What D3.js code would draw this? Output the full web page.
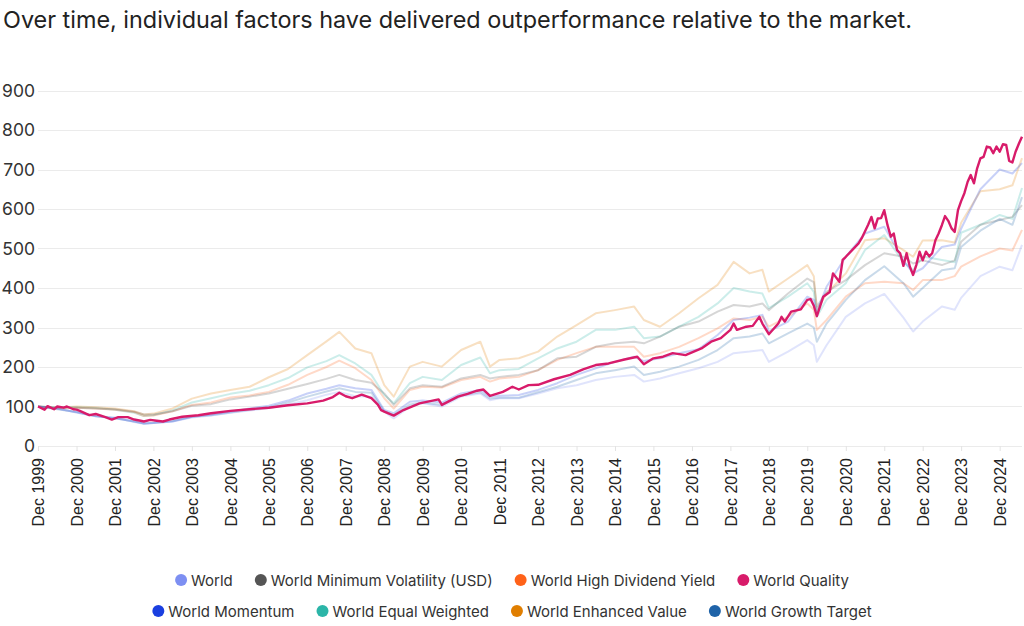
<!DOCTYPE html>
<html>
<head>
<meta charset="utf-8">
<script src="https://cdn.jsdelivr.net/npm/d3@7"></script>
<style>
body { margin: 0; background: #fff; }
svg text { font-family: Inter, "Noto Sans", sans-serif; }
</style>
</head>
<body>
<svg width="1024" height="626"></svg>
<script>
// month grid shared by the faded series
var dates = ["1999-12","2000-06","2000-12","2001-06","2001-12","2002-06","2002-09","2002-12","2003-06","2003-12",
	"2004-06","2004-12","2005-06","2005-12","2006-06","2006-12","2007-06","2007-10","2008-03","2008-08",
	"2008-12","2009-03","2009-08","2009-12","2010-06","2010-12","2011-06","2011-09","2011-12","2012-06",
	"2012-12","2013-06","2013-12","2014-06","2014-12","2015-06","2015-09","2016-02","2016-08","2017-02",
	"2017-08","2018-01","2018-06","2018-10","2018-12","2019-06","2019-12","2020-02","2020-03","2020-06",
	"2020-12","2021-06","2021-12","2022-06","2022-09","2022-12","2023-06","2023-10","2023-12","2024-06",
	"2024-12","2025-04","2025-07"];

var world = [100,94,86,75,73,61,56,58,62,72, 77,84,90,96,105,116,130,137,126,125,
	87,70,100,108,100,125,133,116,121,121, 133,146,154,167,175,180,163,171,184,197,
	213,235,239,243,213,239,268,255,213,255, 327,361,385,325,290,315,353,345,375,430, 454,445,509];
var minVol = [100,97,97,95,93,87,80,80,88,102, 106,118,125,133,145,157,170,180,167,160,
	133,104,146,154,150,171,180,171,175,180, 192,222,226,251,260,264,260,277,302,315,
	340,357,353,361,344,386,424,415,353,390, 420,458,488,479,462,470,458,470,517,560, 572,580,610];
var highDiv = [100,95,97,95,92,86,76,77,88,104, 110,123,128,137,155,180,200,216,197,167,
	121,95,142,150,148,167,175,163,171,175, 192,218,235,251,251,251,226,235,251,273,
	298,323,319,327,302,327,361,345,294,319, 378,412,416,412,395,420,420,430,454,480, 500,495,547];
var momentum = [100,95,85,75,70,62,57,58,62,74, 80,87,95,102,115,133,145,154,146,142,
	91,83,112,115,110,133,142,125,127,129, 142,159,180,197,213,226,215,222,235,245,
	281,319,325,332,290,315,378,370,340,403, 479,538,555,470,437,450,504,510,550,650, 700,690,716];
var equalW = [100,98,98,96,92,84,76,78,90,110, 121,132,140,154,172,199,215,230,209,180,
	129,108,159,175,167,205,224,184,192,195, 222,247,264,294,294,302,273,277,302,327,
	361,400,391,386,349,378,412,390,327,370, 412,496,534,466,445,480,471,465,540,560, 585,575,653];
var enhValue = [100,97,100,98,95,88,80,82,95,120, 133,142,150,174,195,230,265,289,247,235,
	154,125,201,213,201,243,264,201,218,222, 239,277,306,336,344,353,319,302,336,374,
	408,466,437,446,391,424,458,430,344,386, 437,521,526,496,479,520,521,515,565,645, 650,660,729];
var growthT = [100,93,86,76,70,62,57,59,63,74, 78,85,92,98,110,125,138,146,137,135,
	88,78,105,110,104,128,136,120,122,122, 136,150,167,184,192,201,180,188,201,218,
	243,273,277,285,260,285,310,300,264,310, 370,420,455,412,378,400,445,450,504,545, 575,560,630];

// highlighted series, monthly where it moves
var qualityDates = ["1999-12","2000-02","2000-03","2000-05","2000-06","2000-08","2000-09","2000-11","2000-12","2001-01",
	"2001-04","2001-06","2001-09","2001-11","2002-01","2002-04","2002-06","2002-08","2002-09","2002-11",
	"2003-01","2003-03","2003-05","2003-09","2004-02","2004-06","2004-12","2005-06","2005-12","2006-06",
	"2006-12","2007-05","2007-08","2007-10","2007-12","2008-02","2008-05","2008-08","2008-10","2008-11",
	"2008-12","2009-03","2009-06","2009-11","2010-05","2010-06","2010-11","2011-02","2011-05","2011-07",
	"2011-09","2012-01","2012-04","2012-06","2012-09","2012-12","2013-05","2013-10","2014-02","2014-06",
	"2014-10","2015-03","2015-07","2015-09","2015-12","2016-03","2016-06","2016-10","2017-03","2017-06",
	"2017-09","2017-12","2018-01","2018-02","2018-05","2018-07","2018-09","2018-10","2018-12","2019-03",
	"2019-04","2019-05","2019-07","2019-10","2019-12","2020-01","2020-02","2020-03","2020-05","2020-07",
	"2020-08","2020-10","2020-11","2020-12","2021-04","2021-05","2021-07","2021-08","2021-09","2021-10",
	"2021-11","2021-12","2022-01","2022-02","2022-03","2022-04","2022-05","2022-06","2022-07","2022-08",
	"2022-09","2022-10","2022-11","2022-12","2023-01","2023-02","2023-03","2023-04","2023-05","2023-06",
	"2023-07","2023-08","2023-09","2023-10","2023-11","2023-12","2024-01","2024-02","2024-03","2024-04",
	"2024-05","2024-06","2024-07","2024-08","2024-09","2024-10","2024-11","2024-12","2025-01","2025-02",
	"2025-03","2025-04","2025-05","2025-06","2025-07"];
var quality = [100,92,101,93,100,97,100,93,92,89,
	78,81,73,67,73,73,67,64,62,66,
	64,62,67,74,78,83,89,93,97,103,
	108,115,124,135,126,121,130,121,105,91,
	87,77,91,108,118,104,125,132,140,143,
	127,137,150,143,154,155,169,180,194,205,
	209,219,226,207,222,226,235,230,247,264,
	273,294,310,294,302,304,327,310,283,310,
	327,315,340,346,370,372,355,329,378,390,
	437,416,471,479,513,526,560,580,551,576,
	577,597,559,530,538,496,488,456,488,454,
	433,458,492,470,492,480,488,521,538,559,
	582,570,551,542,597,620,640,669,686,665,
	703,728,732,758,756,741,758,745,764,762,
	722,718,745,765,783];

var seriesNames = ["World","World Minimum Volatility (USD)","World High Dividend Yield","World Quality",
	"World Momentum","World Equal Weighted","World Enhanced Value","World Growth Target"];
var seriesColors = ["#7d8ff2","#555555","#ff6219","#d81b6a","#1a3fe0","#2bb5a8","#e07e00","#1f63a8"];
var yTicks = [0,100,200,300,400,500,600,700,800,900];

function main() {
	var svg = d3.select('svg');
	var parse = d3.timeParse('%Y-%m');

	var x = d3.scaleTime()
		.domain([parse('1999-12'), parse('2025-07')])
		.range([38, 1022]);
	var y = d3.scaleLinear()
		.domain([0, 900])
		.range([446, 90.5]);

	svg.append('text')
		.attr('x', 3)
		.attr('y', 28)
		.attr('font-size', 23.4)
		.attr('fill', '#222')
		.text('Over time, individual factors have delivered outperformance relative to the market.');

	// grid + y labels
	var grid = svg.append('g');
	grid.selectAll('line')
		.data(yTicks).enter().append('line')
		.attr('x1', 38).attr('x2', 1022)
		.attr('y1', function(d){ return Math.round(y(d)) + 0.5; })
		.attr('y2', function(d){ return Math.round(y(d)) + 0.5; })
		.attr('stroke', '#ebebeb');
	grid.selectAll('text')
		.data(yTicks).enter().append('text')
		.attr('x', 35)
		.attr('y', function(d){ return y(d) + 6; })
		.attr('text-anchor', 'end')
		.attr('font-size', 17.5)
		.attr('fill', '#333')
		.text(function(d){ return d; });

	// x axis: every December
	var xTicks = d3.range(1999, 2025).map(function(yr){ return parse(yr + '-12'); });
	var xa = svg.append('g')
		.attr('transform', 'translate(0,446)')
		.call(d3.axisBottom(x).tickValues(xTicks).tickSize(5).tickPadding(0)
			.tickFormat(d3.timeFormat('Dec %Y')));
	xa.select('.domain').remove();
	xa.selectAll('line').attr('stroke', '#e3e3e3');
	xa.selectAll('text')
		.attr('transform', 'rotate(-90)')
		.attr('x', -12)
		.attr('y', 0)
		.attr('dy', '0.35em')
		.attr('text-anchor', 'end')
		.style('font-family', '"Liberation Sans", Arial, sans-serif')
		.attr('font-size', 16)
		.attr('fill', '#222');

	var line = d3.line()
		.x(function(d){ return x(d.date); })
		.y(function(d){ return y(d.value); });

	var faded = [
		{name: seriesNames[6], values: enhValue, color: seriesColors[6]},
		{name: seriesNames[5], values: equalW, color: seriesColors[5]},
		{name: seriesNames[2], values: highDiv, color: seriesColors[2]},
		{name: seriesNames[1], values: minVol, color: seriesColors[1]},
		{name: seriesNames[4], values: momentum, color: seriesColors[4]},
		{name: seriesNames[7], values: growthT, color: seriesColors[7]},
		{name: seriesNames[0], values: world, color: seriesColors[0]}
	];
	svg.append('g').selectAll('path')
		.data(faded).enter().append('path')
		.attr('d', function(s){
			return line(s.values.map(function(v, i){ return {date: parse(dates[i]), value: v}; }));
		})
		.attr('fill', 'none')
		.attr('stroke', function(s){ return s.color; })
		.attr('stroke-opacity', 0.24)
		.attr('stroke-width', 2)
		.attr('stroke-linejoin', 'round');

	svg.append('path')
		.attr('d', line(quality.map(function(v, i){ return {date: parse(qualityDates[i]), value: v}; })))
		.attr('fill', 'none')
		.attr('stroke', seriesColors[3])
		.attr('stroke-width', 2.4)
		.attr('stroke-linejoin', 'round');

	// legend, two centred rows
	var rows = [[0, 1, 2, 3], [4, 5, 6, 7]];
	rows.forEach(function(row, r){
		var g = svg.append('g');
		var cy = 580 + r * 31;
		var cx = 0;
		row.forEach(function(k){
			var item = g.append('g').attr('transform', 'translate(' + cx + ',0)');
			item.append('circle')
				.attr('cx', 6).attr('cy', cy).attr('r', 6)
				.attr('fill', seriesColors[k]);
			var t = item.append('text')
				.attr('x', 16).attr('y', cy + 5.5)
				.attr('font-size', 15)
				.attr('fill', '#333')
				.text(seriesNames[k]);
			cx += 16 + t.node().getComputedTextLength() + 22;
		});
		var w = cx - 22;
		g.attr('transform', 'translate(' + (512 - w / 2) + ',0)');
	});
}
main();
</script>
</body>
</html>
